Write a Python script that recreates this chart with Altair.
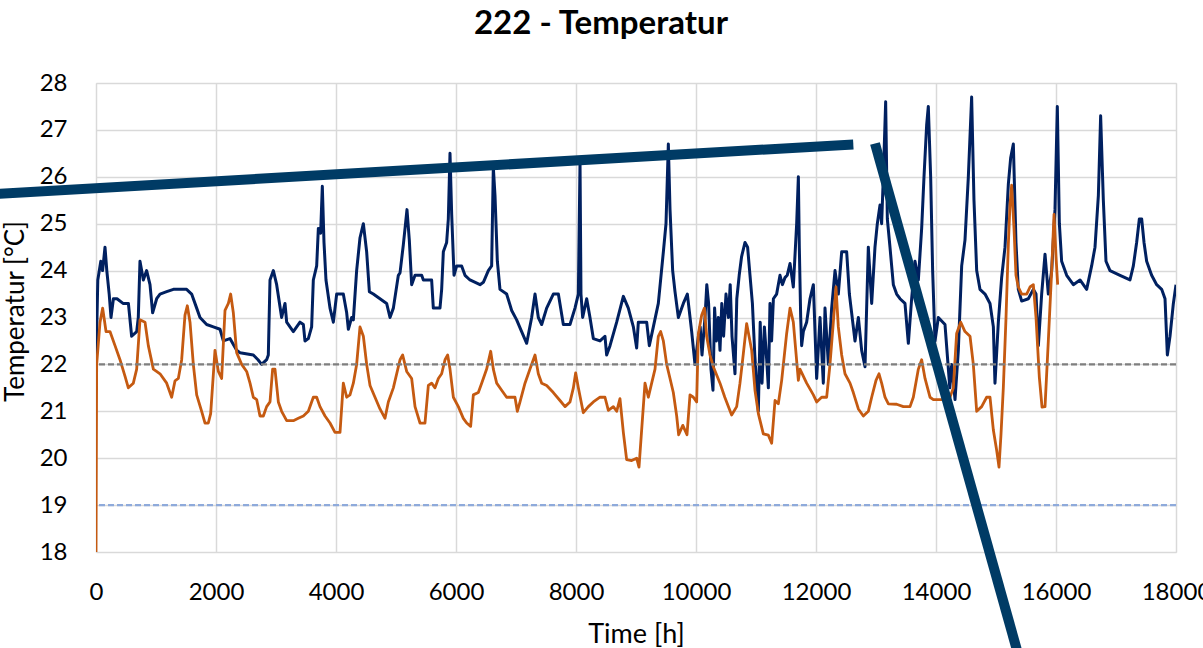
import altair as alt
import pandas as pd

# Upper room temperature (navy) – hours and °C
upper_h = [
    0, 30, 80, 110, 150, 180, 220, 250, 290, 350, 450, 540, 594, 678, 705, 733, 789, 844, 900, 944,
    1011, 1067, 1178, 1290, 1510, 1594, 1678, 1733, 1844, 1956, 2067, 2122, 2233, 2344, 2400, 2622,
    2700, 2761, 2844, 2872, 2900, 2956, 3011, 3094, 3150, 3178, 3233, 3289, 3400, 3456, 3483, 3539,
    3594, 3622, 3678, 3706, 3744, 3772, 3800, 3833, 3900, 3956, 4011, 4122, 4178, 4206, 4261, 4289,
    4344, 4400, 4456, 4511, 4556, 4622, 4733, 4844, 4900, 4956, 5039, 5067, 5122, 5183, 5222, 5261,
    5317, 5428, 5456, 5594, 5622, 5733, 5761, 5789, 5844, 5872, 5900, 5928, 5967, 6011, 6094, 6150,
    6233, 6400, 6456, 6539, 6594, 6622, 6650, 6689, 6733, 6844, 6928, 7011, 7094, 7178, 7261, 7317,
    7372, 7428, 7511, 7622, 7706, 7789, 7900, 7983, 8039, 8067, 8083, 8111, 8178, 8233, 8289, 8400,
    8483, 8511, 8567, 8678, 8789, 8872, 8956, 9011, 9039, 9178, 9222, 9289, 9372, 9456, 9500, 9539,
    9567, 9611, 9650, 9706, 9789, 9856, 9928, 9983, 10040, 10070, 10100, 10150, 10180, 10210, 10250,
    10283, 10310, 10340, 10372, 10400, 10430, 10460, 10500, 10540, 10570, 10600, 10650, 10680, 10720,
    10760, 10817, 10860, 10900, 10940, 10980, 11039, 11070, 11100, 11140, 11178, 11206, 11233, 11260,
    11290, 11344, 11400, 11440, 11483, 11520, 11567, 11622, 11678, 11706, 11722, 11745, 11761, 11789,
    11844, 11900, 11956, 12011, 12067, 12122, 12150, 12206, 12261, 12317, 12372, 12428, 12511, 12556,
    12594, 12650, 12706, 12761, 12817, 12872, 12928, 12983, 13022, 13067, 13094, 13122, 13161, 13189,
    13233, 13289, 13344, 13400, 13483, 13539, 13594, 13650, 13706, 13761, 13800, 13844, 13872, 13911,
    13944, 13983, 14039, 14150, 14230, 14261, 14317, 14372, 14428, 14483, 14539, 14594, 14633, 14678,
    14733, 14817, 14900, 14956, 14983, 15039, 15094, 15150, 15206, 15244, 15289, 15333, 15372, 15428,
    15539, 15622, 15667, 15706, 15761, 15817, 15872, 15928, 15983, 16022, 16056, 16094, 16178, 16289,
    16400, 16511, 16594, 16650, 16706, 16744, 16789, 16833, 16900, 17067, 17233, 17289, 17344, 17389,
    17428, 17467, 17511, 17594, 17678, 17761, 17817, 17856, 17900, 17956, 18000,
]
upper_t = [
    22.0, 23.8, 24.2, 24.0, 24.5, 24.0, 23.5, 23.0, 23.4, 23.4, 23.3, 23.3, 22.6, 22.7, 23.0, 24.2, 23.8, 24.0, 23.7, 23.1,
    23.4, 23.5, 23.55, 23.6, 23.6, 23.5, 23.2, 23.0, 22.85, 22.8, 22.75, 22.5, 22.55, 22.3, 22.25, 22.2,
    22.1, 22.0, 22.1, 22.2, 23.8, 24.0, 23.7, 23.0, 23.3, 22.9, 22.8, 22.7, 22.9, 22.85, 22.5, 22.55,
    22.8, 23.8, 24.1, 24.9, 24.8, 25.8, 24.6, 23.8, 23.2, 22.9, 23.5, 23.5, 23.1, 22.75, 23.0, 22.95,
    24.0, 24.7, 25.0, 24.4, 23.55, 23.5, 23.4, 23.3, 23.0, 23.2, 23.9, 23.95, 24.55, 25.3, 24.65, 23.7,
    23.9, 23.9, 23.8, 23.8, 23.2, 23.2, 23.6, 24.4, 24.6, 25.1, 26.5, 25.2, 23.9, 24.1, 24.1, 23.9,
    23.8, 23.7, 23.75, 24.0, 24.1, 26.2, 25.6, 24.2, 23.6, 23.5, 23.15, 22.95, 22.7, 22.45, 23.0, 23.5,
    23.0, 22.85, 23.2, 23.5, 23.5, 22.85, 22.85, 23.2, 23.5, 26.3, 23.5, 23.0, 23.4, 23.0, 22.55, 22.5,
    22.6, 22.2, 22.4, 22.9, 23.45, 23.2, 22.8, 22.35, 22.9, 22.9, 22.4, 22.8, 23.3, 24.4, 25.0, 26.7,
    25.3, 24.0, 23.55, 23.0, 23.3, 23.5, 22.7, 22.0, 22.6, 22.8, 22.2, 23.0, 23.7, 23.3, 21.9,
    21.45, 23.2, 22.5, 23.0, 22.3, 23.3, 22.6, 23.5, 23.0, 23.7, 22.6, 21.8, 23.4, 23.9,
    24.3, 24.6, 24.5, 23.9, 23.3, 22.2, 21.0, 22.9, 21.6, 22.8, 22.1, 21.5, 23.3, 22.5,
    23.4, 23.5, 23.9, 23.7, 23.85, 23.9, 24.15, 23.65, 25.0, 26.0, 24.5, 23.0, 22.4, 22.7,
    22.9, 23.4, 23.7, 21.7, 23.0, 21.6, 23.2, 22.0, 23.2, 24.0, 23.5, 24.4, 24.4, 23.5,
    23.1, 22.5, 23.0, 22.3, 21.95, 24.5, 23.3, 24.5, 25.0, 25.4, 25.0, 26.0, 27.6, 25.1,
    24.5, 23.7, 23.5, 23.4, 23.3, 22.45, 23.4, 24.2, 23.8, 24.9, 26.0, 27.1, 27.5, 26.0,
    24.0, 22.5, 23.0, 22.85, 21.5, 22.0, 21.25, 22.3, 24.1, 24.65, 26.0, 27.7, 25.5, 24.0,
    23.6, 23.5, 23.3, 22.8, 21.6, 22.9, 23.85, 24.5, 25.85, 26.4, 26.7, 24.6, 23.6, 23.35,
    23.4, 23.6, 23.5, 22.4, 23.5, 24.35, 23.5, 24.0, 25.3, 27.5, 25.0, 24.2, 23.9, 23.7,
    23.8, 23.6, 24.1, 24.5, 25.6, 27.3, 25.5, 24.2, 24.0, 23.9, 23.8, 24.1, 24.6, 25.1,
    25.1, 24.6, 24.2, 23.9, 23.7, 23.6, 23.4, 22.2, 22.6, 23.3, 23.7,
]

# Lower room temperature (orange) – hours and °C
lower_h = [
    0, 11, 67, 111, 167, 233, 317, 400, 483, 539, 622, 678, 733, 817, 872, 956, 1067, 1178, 1261, 1317,
    1372, 1428, 1483, 1522, 1567, 1622, 1678, 1761, 1817, 1872, 1911, 1983, 2039, 2094, 2150, 2206,
    2244, 2289, 2344, 2428, 2511, 2567, 2622, 2678, 2733, 2789, 2844, 2900, 2944, 2983, 3039, 3094,
    3178, 3289, 3372, 3456, 3539, 3622, 3678, 3733, 3817, 3900, 3983, 4067, 4122, 4178, 4233, 4289,
    4344, 4400, 4456, 4511, 4567, 4650, 4733, 4817, 4872, 4956, 5067, 5111, 5178, 5261, 5317, 5400,
    5483, 5539, 5594, 5650, 5706, 5761, 5817, 5861, 5900, 5956, 6039, 6122, 6178, 6244, 6289, 6372,
    6428, 6511, 6578, 6622, 6678, 6761, 6844, 6983, 7022, 7067, 7150, 7233, 7317, 7372, 7428, 7511,
    7622, 7733, 7817, 7900, 7956, 7994, 8039, 8122, 8206, 8289, 8400, 8483, 8539, 8622, 8678, 8733,
    8789, 8844, 8928, 9011, 9050, 9094, 9150, 9206, 9261, 9317, 9372, 9411, 9456, 9511, 9567, 9622,
    9678, 9711, 9780, 9850, 9900, 9956, 10011, 10039, 10094, 10140, 10178, 10233, 10289, 10400,
    10480, 10594, 10678, 10733, 10789, 10844, 10928, 10983, 11039, 11122, 11206, 11261, 11317, 11372,
    11428, 11511, 11567, 11622, 11706, 11733, 11844, 11956, 12011, 12094, 12178, 12233, 12289, 12333,
    12372, 12428, 12483, 12567, 12622, 12706, 12789, 12872, 12928, 13000, 13050, 13094, 13150, 13206,
    13344, 13456, 13567, 13622, 13706, 13761, 13817, 13900, 13956, 14122, 14233, 14289, 14344, 14411,
    14483, 14567, 14622, 14678, 14761, 14844, 14900, 14956, 15011, 15050, 15083, 15122, 15167, 15206,
    15233, 15261, 15300, 15333, 15372, 15428, 15511, 15567, 15622, 15667, 15722, 15767, 15817, 15872,
    15928, 15967, 16000, 16028,
]
lower_t = [
    18.0, 22.0, 22.9, 23.2, 22.7, 22.7, 22.4, 22.1, 21.75, 21.5, 21.6, 21.9, 22.95, 22.9, 22.4, 21.9, 21.8, 21.6, 21.3, 21.65,
    21.7, 22.1, 23.05, 23.25, 22.9, 22.0, 21.35, 21.0, 20.75, 20.75, 20.95, 22.3, 21.85, 21.7, 23.15, 23.3,
    23.5, 23.1, 22.25, 22.0, 21.85, 21.6, 21.3, 21.25, 20.9, 20.9, 21.1, 21.2, 21.9, 21.9, 21.2, 21.0,
    20.8, 20.8, 20.85, 20.9, 21.0, 21.3, 21.3, 21.1, 20.9, 20.75, 20.55, 20.55, 21.6, 21.3, 21.35, 21.6,
    22.0, 22.8, 22.6, 22.0, 21.55, 21.3, 21.05, 20.85, 21.2, 21.5, 22.1, 22.2, 21.85, 21.7, 21.1, 20.75,
    20.75, 21.55, 21.6, 21.5, 21.7, 21.8, 22.1, 22.2, 21.9, 21.3, 21.1, 20.85, 20.75, 20.68, 21.35, 21.4,
    21.6, 21.9, 22.28, 21.9, 21.6, 21.45, 21.3, 21.3, 21.0, 21.2, 21.6, 21.9, 22.2, 21.8, 21.6, 21.55,
    21.4, 21.23, 21.1, 21.2, 21.5, 21.82, 21.5, 20.97, 21.1, 21.2, 21.3, 21.3, 21.02, 21.1, 21.0, 21.27,
    20.55, 19.97, 19.95, 20.0, 19.81, 20.6, 21.6, 21.3, 21.6, 21.9, 22.6, 22.7, 22.5, 22.0, 21.7, 21.4,
    20.9, 20.5, 20.7, 20.5, 21.35, 21.3, 21.2, 22.65, 23.05, 23.2, 22.6, 22.2, 21.95, 21.6,
    21.3, 20.92, 21.1, 21.6, 22.23, 22.87, 22.3, 21.45, 20.95, 20.52, 20.49, 20.32, 21.23, 21.16,
    21.66, 22.66, 23.2, 22.9, 21.66, 21.9, 21.6, 21.35, 21.2, 21.3, 21.3, 22.0, 22.9, 23.65,
    22.8, 22.2, 21.8, 21.6, 21.4, 21.05, 20.9, 21.0, 21.3, 21.66, 21.8, 21.6, 21.3, 21.16,
    21.15, 21.1, 21.1, 21.3, 21.9, 22.1, 21.7, 21.3, 21.25, 21.25, 21.3, 21.5, 22.66, 22.9,
    22.7, 22.6, 22.0, 21.0, 21.1, 21.3, 21.3, 20.6, 20.17, 19.81, 20.5, 21.5, 23.0, 24.57,
    25.4, 25.82, 24.9, 23.9, 23.65, 23.5, 23.5, 23.65, 23.7, 23.0, 21.73, 21.09, 21.1, 22.5,
    24.0, 25.2, 24.3, 23.7,
]

# Target bands: 22 °C and 19 °C
ref_t = [22, 19]
ref_colors = ["#7f7f7f", "#8eaadb"]

# Hand-drawn trend strokes (hours, °C); they run past the plot frame
stroke_a_h = [-2000, 12622]
stroke_a_t = [25.61, 26.69]
stroke_b_h = [12983, 15583]
stroke_b_t = [26.71, 14.84]

x_ticks = list(range(0, 18001, 2000))
y_ticks = list(range(18, 29))

FONT = "Lato"

x_scale = alt.Scale(domain=[0, 18000], nice=False, zero=False)
y_scale = alt.Scale(domain=[18, 28], nice=False, zero=False)

x_axis = alt.Axis(
    values=x_ticks, format="d", grid=True, gridColor="#d9d9d9", gridWidth=1.5,
    domain=False, ticks=False, labelFont=FONT, labelFontSize=24, labelColor="#000000",
    labelPadding=28, labelFlush=False, labelOverlap=False,
    title="Time [h]", titleFont=FONT, titleFontSize=27, titleFontWeight="normal",
    titleColor="#000000", titleBaseline="alphabetic", titleX=540, titleY=90,
)
y_axis = alt.Axis(
    values=y_ticks, format="d", grid=True, gridColor="#d9d9d9", gridWidth=1.5,
    domain=False, ticks=False, labelFont=FONT, labelFontSize=24, labelColor="#000000",
    labelPadding=29, labelFlush=False, labelOverlap=False,
    title="Temperatur [°C]", titleFont=FONT, titleFontSize=26, titleFontWeight="normal",
    titleColor="#000000", titleAngle=270, titleAlign="center", titleBaseline="alphabetic",
    titleX=-73, titleY=228,
)

upper_df = pd.DataFrame({"h": upper_h, "t": upper_t})
lower_df = pd.DataFrame({"h": lower_h, "t": lower_t})
ref_df = pd.DataFrame({"t": ref_t, "c": ref_colors})
stroke_a_df = pd.DataFrame({"h": stroke_a_h, "t": stroke_a_t})
stroke_b_df = pd.DataFrame({"h": stroke_b_h, "t": stroke_b_t})

base_x = alt.X("h:Q", scale=x_scale, axis=x_axis)
base_y = alt.Y("t:Q", scale=y_scale, axis=y_axis)

upper = alt.Chart(upper_df).mark_line(
    color="#002060", strokeWidth=3, strokeJoin="round", clip=True
).encode(x=base_x, y=base_y)

lower = alt.Chart(lower_df).mark_line(
    color="#c55a11", strokeWidth=2.8, strokeJoin="round", clip=True
).encode(x=base_x, y=base_y)

refs = alt.Chart(ref_df).mark_rule(strokeWidth=2.2, strokeDash=[6, 3]).encode(
    y=alt.Y("t:Q", scale=y_scale, axis=y_axis),
    color=alt.Color("c:N", scale=None),
)

stroke_a = alt.Chart(stroke_a_df).mark_line(
    color="#003b65", strokeWidth=10, strokeCap="butt", clip=False
).encode(x=base_x, y=base_y)

stroke_b = alt.Chart(stroke_b_df).mark_line(
    color="#003b65", strokeWidth=10, strokeCap="butt", clip=False
).encode(x=base_x, y=base_y)

chart = alt.layer(upper, lower, refs, stroke_a, stroke_b).properties(
    width=1080,
    height=469,
    autosize=alt.AutoSizeParams(type="none"),
    padding={"left": 96, "top": 83, "right": 27, "bottom": 96},
    title=alt.TitleParams(
        "222 - Temperatur", font=FONT, fontSize=33, fontWeight="bold",
        color="#000000", anchor="middle", dx=-35, offset=30,
    ),
).configure_view(stroke=None).configure(background="#ffffff")

chart.save("out.html", embed_options={"renderer": "svg", "actions": False})
